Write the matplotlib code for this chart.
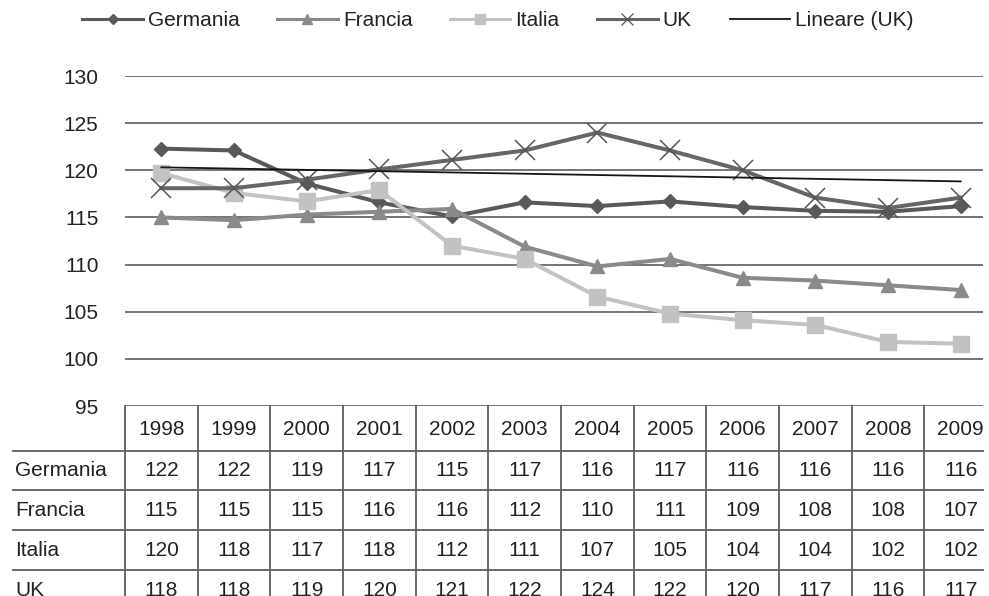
import numpy as np
import matplotlib
matplotlib.use("Agg")
import matplotlib.pyplot as plt
from matplotlib.lines import Line2D
from matplotlib.transforms import blended_transform_factory

plt.rcParams["font.family"] = ["Liberation Sans", "DejaVu Sans"]

years = ["1998", "1999", "2000", "2001", "2002", "2003",
         "2004", "2005", "2006", "2007", "2008", "2009"]
germania = [122.3, 122.1, 118.6, 116.6, 115.1, 116.6, 116.2, 116.7, 116.1, 115.7, 115.6, 116.2]
francia = [115.0, 114.7, 115.3, 115.6, 115.9, 111.9, 109.8, 110.6, 108.6, 108.3, 107.8, 107.3]
italia = [119.7, 117.6, 116.7, 117.9, 112.0, 110.6, 106.6, 104.8, 104.1, 103.6, 101.8, 101.6]
uk = [118.1, 118.1, 119.0, 120.1, 121.1, 122.1, 124.0, 122.1, 120.0, 117.1, 116.0, 117.1]
series_names = ["Germania", "Francia", "Italia", "UK"]
trend_label = "Lineare (UK)"
y_ticks = [95, 100, 105, 110, 115, 120, 125, 130]

W, H = 989, 596
fig = plt.figure(figsize=(W / 100, H / 100), dpi=100)

def fx(px):
    return px / W

def fy(py):
    return 1 - py / H

# plot area: left edge 125 px, x range extends past the right border
ax_left, ax_right, ax_top, ax_bot = 125, 997, 76, 406
ax = fig.add_axes([fx(ax_left), fy(ax_bot), fx(ax_right - ax_left), (ax_bot - ax_top) / H])
ax.set_xlim(-0.5, len(years) - 0.5)
ax.set_ylim(95, 130)
for s in ax.spines.values():
    s.set_visible(False)
ax.set_xticks([])
ax.set_yticks(y_ticks)
ax.tick_params(axis="y", length=0, pad=19, labelsize=15, labelcolor="#222222")

col_w = (ax_right - ax_left) / len(years)
line_end_px = 983
x_end = (line_end_px - ax_left) / col_w - 0.5
ax.hlines(y_ticks, -0.5, x_end, colors="#6a6a6a", linewidth=1.3, zorder=1)

x = np.arange(len(years))
tc = "#222222"
ax.plot(x, germania, color="#595959", lw=2.9, marker="D", ms=7.6,
        mfc="#595959", mec="#595959", label=series_names[0], zorder=3)
ax.plot(x, francia, color="#8a8a8a", lw=2.9, marker="^", ms=10.5,
        mfc="#8a8a8a", mec="#8a8a8a", label=series_names[1], zorder=3)
ax.plot(x, italia, color="#c2c2c2", lw=2.9, marker="s", ms=11,
        mfc="#c2c2c2", mec="#c2c2c2", label=series_names[2], zorder=3)
ax.plot(x, uk, color="#666666", lw=2.9, marker="x", ms=14, mew=1.1,
        mec="#555555", label=series_names[3], zorder=3)
coef = np.polyfit(x, uk, 1)
ax.plot(x, np.polyval(coef, x), color="#151515", lw=1.3, label=trend_label, zorder=4)

leg = fig.legend(loc="center", bbox_to_anchor=(fx(498), fy(21)), ncol=5,
                 frameon=False, fontsize=15, handlelength=2.9,
                 handletextpad=0.25, columnspacing=1.8, borderaxespad=0)
for t in leg.get_texts():
    t.set_color(tc)
legend_marker_sizes = [5.5, 7, 7.5, 8]
for h, ms in zip(leg.legend_handles, legend_marker_sizes + [0]):
    if h.get_label() == trend_label:
        continue
    h.set_linewidth(2.2)
    h.set_markersize(ms)
    if h.get_marker() == "x":
        h.set_markeredgewidth(0.9)

# data table below the plot
bt = blended_transform_factory(ax.transData, fig.transFigure)
line_c = "#5e5e5e"
row_edges = [451, 490, 530, 570, 610]
for py in row_edges[:-1]:
    fig.add_artist(Line2D([fx(13), fx(line_end_px)], [fy(py), fy(py)],
                          transform=fig.transFigure, color=line_c, lw=1.3))
for i in range(len(years)):
    fig.add_artist(Line2D([i - 0.5, i - 0.5], [fy(ax_bot), fy(H + 20)],
                          transform=bt, color=line_c, lw=1.3, clip_on=False))

for i, yr in enumerate(years):
    fig.text(i, fy((ax_bot + row_edges[0]) / 2 + 1), yr, transform=bt,
             ha="center", va="center", fontsize=15, color=tc)

table_rows = [germania, francia, italia, uk]
for r, (name, vals) in enumerate(zip(series_names, table_rows)):
    cy = fy((row_edges[r] + row_edges[r + 1]) / 2)
    fig.text(fx(15), cy, name, ha="left", va="center", fontsize=15, color=tc)
    for i, v in enumerate(vals):
        fig.text(i, cy, f"{v:.0f}", transform=bt, ha="center", va="center",
                 fontsize=15, color=tc)

fig.savefig("out.png", dpi=100)
